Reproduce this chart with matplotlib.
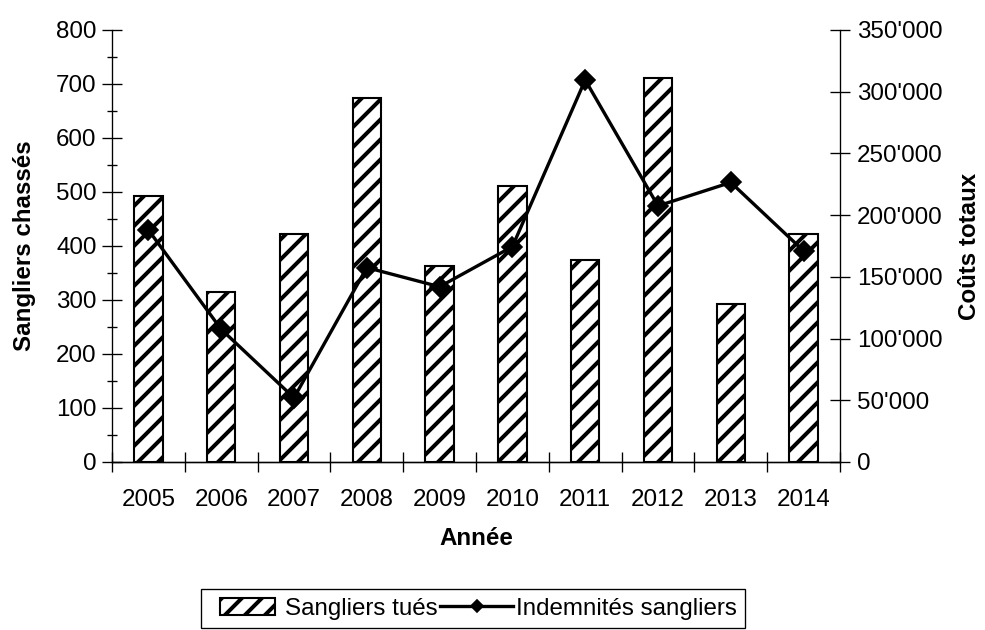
import numpy as np
import matplotlib
matplotlib.use("Agg")
import matplotlib.pyplot as plt
import matplotlib.patches as mpatches
from matplotlib.legend_handler import HandlerPatch
from matplotlib.ticker import FuncFormatter, MultipleLocator

plt.rcParams["font.family"] = ["Liberation Sans", "DejaVu Sans"]
plt.rcParams["hatch.linewidth"] = 2.4
plt.rcParams["hatch.color"] = "black"

# data
years = ["2005", "2006", "2007", "2008", "2009", "2010", "2011", "2012", "2013", "2014"]
sangliers_tues = [493, 315, 423, 675, 363, 512, 375, 712, 293, 423]
indemnites = [188000, 107500, 52000, 157500, 142000, 174500, 309500, 207500, 226500, 171000]

DPI = 120  # hatch spacing follows dpi, 120 gives the stripe density of the original
fig = plt.figure(figsize=(985 / DPI, 630 / DPI), dpi=DPI)
ax = fig.add_axes([112 / 985, 168 / 630, 728 / 985, 432 / 630])
ax2 = ax.twinx()

x = np.arange(len(years))
bars = ax.bar(x, sangliers_tues, width=0.39, color="white", edgecolor="black",
              linewidth=1.25, hatch="//", label="Sangliers tués")
line, = ax2.plot(x, indemnites, color="black", linewidth=2.0, marker="D",
                 markersize=8.8, label="Indemnités sangliers")

ax.set_xlim(-0.5, len(years) - 0.5)
ax.set_ylim(0, 800)
ax2.set_ylim(0, 350000)

fs = 14.5

# x axis: ticks between categories, labels at centres
ax.set_xticks(np.arange(-0.5, len(years)))
ax.set_xticklabels([])
ax.set_xticks(x, minor=True)
ax.set_xticklabels(years, minor=True)
ax.tick_params(axis="x", which="major", direction="inout", length=12.5, width=0.8)
ax.tick_params(axis="x", which="minor", length=0, pad=16, labelsize=fs)

ax.yaxis.set_major_locator(MultipleLocator(100))
ax.yaxis.set_minor_locator(MultipleLocator(50))
ax.tick_params(axis="y", which="major", direction="inout", length=12.5, width=0.8,
               labelsize=fs, pad=3)
ax.tick_params(axis="y", which="minor", direction="inout", length=6.5, width=0.8)

ax2.yaxis.set_major_locator(MultipleLocator(50000))
ax2.yaxis.set_major_formatter(FuncFormatter(lambda v, p: f"{int(v):,}".replace(",", "'")))
ax2.tick_params(axis="y", direction="inout", length=12.5, width=0.8, labelsize=fs, pad=4)

for a in (ax, ax2):
    a.spines["top"].set_visible(False)
    for s in ("left", "right", "bottom"):
        a.spines[s].set_linewidth(0.8)
ax.spines["right"].set_visible(False)
ax2.spines["left"].set_visible(False)

ax.set_xlabel("Année", fontsize=fs, fontweight="bold")
ax.xaxis.set_label_coords(0.5, -0.15)
ax.set_ylabel("Sangliers chassés", fontsize=fs, fontweight="bold", va="center")
ax.yaxis.set_label_coords(-0.12, 0.5)
ax2.set_ylabel("Coûts totaux", fontsize=fs, fontweight="bold", va="center")
ax2.yaxis.set_label_coords(1.178, 0.5)


# legend: the hatched box is shorter than the line sample
def short_box(legend, orig_handle, xdescent, ydescent, width, height, fontsize):
    w = width * 0.76
    return mpatches.Rectangle((-xdescent + (width - w) * 0.6, -ydescent), w, height)


bar_handle = bars.patches[0]
leg = fig.legend([bar_handle, line], ["Sangliers tués", "Indemnités sangliers"],
                 loc="lower center", bbox_to_anchor=(473 / 985, 2 / 630), ncol=2,
                 fontsize=fs, frameon=True, fancybox=False, framealpha=1,
                 edgecolor="black", handlelength=3.0, handletextpad=0.12,
                 columnspacing=0.12, borderpad=0.35, borderaxespad=0,
                 markerscale=0.6,
                 handler_map={bar_handle: HandlerPatch(patch_func=short_box)})
leg.get_frame().set_linewidth(0.8)

fig.savefig("out.png", dpi=DPI)
